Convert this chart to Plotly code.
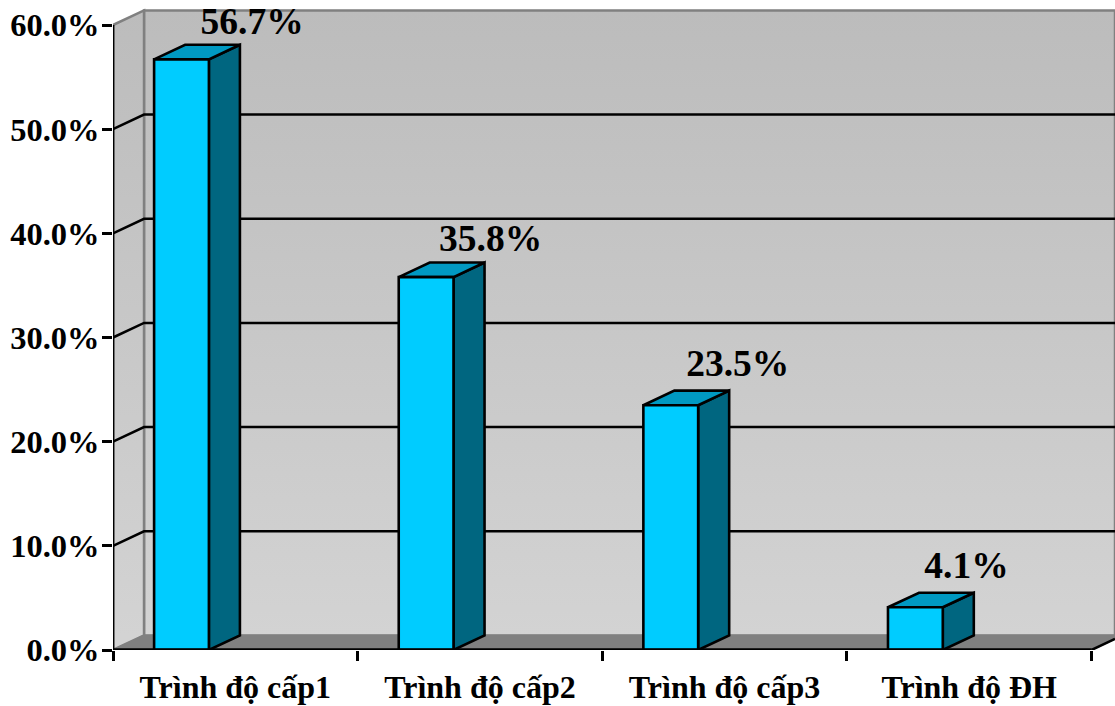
import plotly.graph_objects as go

# Chart data
categories = ["Trình độ cấp1", "Trình độ cấp2", "Trình độ cấp3", "Trình độ ĐH"]
values = [56.7, 35.8, 23.5, 4.1]
y_ticks = [0, 10, 20, 30, 40, 50, 60]

# Hand-placed value labels, as shifts from the bar's back top corner
label_dx = [0.05, 0.025, 0.035, -0.03]
label_dy = [1.9, 2.0, 2.3, 2.3]

# Oblique projection of the depth axis, in axis units
DEPTH_X = 31 / 244.5
DEPTH_Y = 1.4
BAR_LEFT = -0.332   # bar start relative to the category centre
BAR_WIDTH = 0.224
Y_MAX = 62.4
X_MAX = 3.596

FONT = "Liberation Serif"
INK = "#000000"
WALL_GREY = "#808080"
FRONT = "#00ccff"
TOP = "#0099c2"
SIDE = "#006680"


def poly(xs, ys, fill, line=INK, width=2.6, **extra):
    return go.Scatter(x=xs, y=ys, mode="lines", fill="toself", fillcolor=fill,
                      line=dict(color=line, width=width), hoverinfo="skip",
                      showlegend=False, cliponaxis=False, **extra)


def stroke(xs, ys, color=INK, width=2.5):
    return go.Scatter(x=xs, y=ys, mode="lines", line=dict(color=color, width=width),
                      hoverinfo="skip", showlegend=False, cliponaxis=False)


left, right = -0.5, 3.5
bx = left + DEPTH_X
wall_gradient = dict(type="vertical", start=DEPTH_Y + 60, stop=DEPTH_Y,
                     colorscale=[[0, "#bcbcbc"], [1, "#d3d3d3"]])

fig = go.Figure()

# Back wall and side wall, shaded from dark at the top to light at the bottom
fig.add_trace(go.Scatter(x=[bx, X_MAX, X_MAX, bx, bx],
                         y=[DEPTH_Y, DEPTH_Y, DEPTH_Y + 60, DEPTH_Y + 60, DEPTH_Y],
                         mode="lines", fill="toself", fillgradient=wall_gradient,
                         line=dict(color=WALL_GREY, width=2.5), hoverinfo="skip",
                         showlegend=False, cliponaxis=False))
fig.add_trace(go.Scatter(x=[left, bx, bx, left, left],
                         y=[0, DEPTH_Y, DEPTH_Y + 60, 60, 0],
                         mode="lines", fill="toself", fillgradient=wall_gradient,
                         line=dict(color=WALL_GREY, width=2.5), hoverinfo="skip",
                         showlegend=False, cliponaxis=False))

# Floor
fig.add_trace(poly([left, right, right + DEPTH_X, bx, left],
                   [0, 0, DEPTH_Y, DEPTH_Y, 0], WALL_GREY, line=WALL_GREY, width=1.5))

# Gridlines across both walls
for t in y_ticks[1:-1]:
    fig.add_trace(stroke([left, bx, X_MAX], [t, t + DEPTH_Y, t + DEPTH_Y]))

# Front left edge and baseline
fig.add_trace(stroke([left, left], [0, 60], width=2.8))
fig.add_trace(stroke([right, X_MAX], [0, (X_MAX - right) / DEPTH_X * DEPTH_Y], width=2.5))

# Bars: front, top and side faces
label_x, label_y = [], []
for i, v in enumerate(values):
    x0 = i + BAR_LEFT
    x1 = x0 + BAR_WIDTH
    fig.add_trace(poly([x1, x1 + DEPTH_X, x1 + DEPTH_X, x1, x1],
                       [0, DEPTH_Y, v + DEPTH_Y, v, 0], SIDE))
    fig.add_trace(poly([x0, x1, x1 + DEPTH_X, x0 + DEPTH_X, x0],
                       [v, v, v + DEPTH_Y, v + DEPTH_Y, v], TOP))
    fig.add_trace(poly([x0, x1, x1, x0, x0], [0, 0, v, v, 0], FRONT))
    label_x.append(x1 + DEPTH_X + label_dx[i])
    label_y.append(v + DEPTH_Y + label_dy[i])

fig.add_trace(stroke([left, right], [0, 0], width=3.5))

# Value labels
fig.add_trace(go.Scatter(x=label_x, y=label_y, mode="text",
                         text=[f"{v:.1f}%" for v in values],
                         textposition="middle center",
                         textfont=dict(family=FONT, size=37.5, color=INK, weight="bold"),
                         hoverinfo="skip", showlegend=False, cliponaxis=False))

fig.update_layout(
    width=1115, height=706,
    margin=dict(l=113, r=0, t=0, b=56),
    paper_bgcolor="white", plot_bgcolor="white",
    showlegend=False,
    xaxis=dict(range=[left, X_MAX], tickvals=list(range(len(categories))),
               ticktext=categories, ticks="", showgrid=False, zeroline=False,
               showline=False, ticklabelstandoff=15,
               tickfont=dict(family=FONT, size=32, color=INK, weight="bold"),
               minor=dict(tickmode="array", tickvals=[-0.5, 0.5, 1.5, 2.5, 3.5],
                          ticks="outside", ticklen=10, tickwidth=2.5, tickcolor=INK,
                          showgrid=False)),
    yaxis=dict(range=[0, Y_MAX], tickvals=y_ticks,
               ticktext=[f"{t:.1f}%" for t in y_ticks],
               ticks="outside", ticklen=10, tickwidth=2.8, tickcolor=INK,
               showgrid=False, zeroline=False, showline=False, ticklabelstandoff=-4,
               tickfont=dict(family=FONT, size=32.5, color=INK, weight="bold")),
)

fig.write_html("out.html")
